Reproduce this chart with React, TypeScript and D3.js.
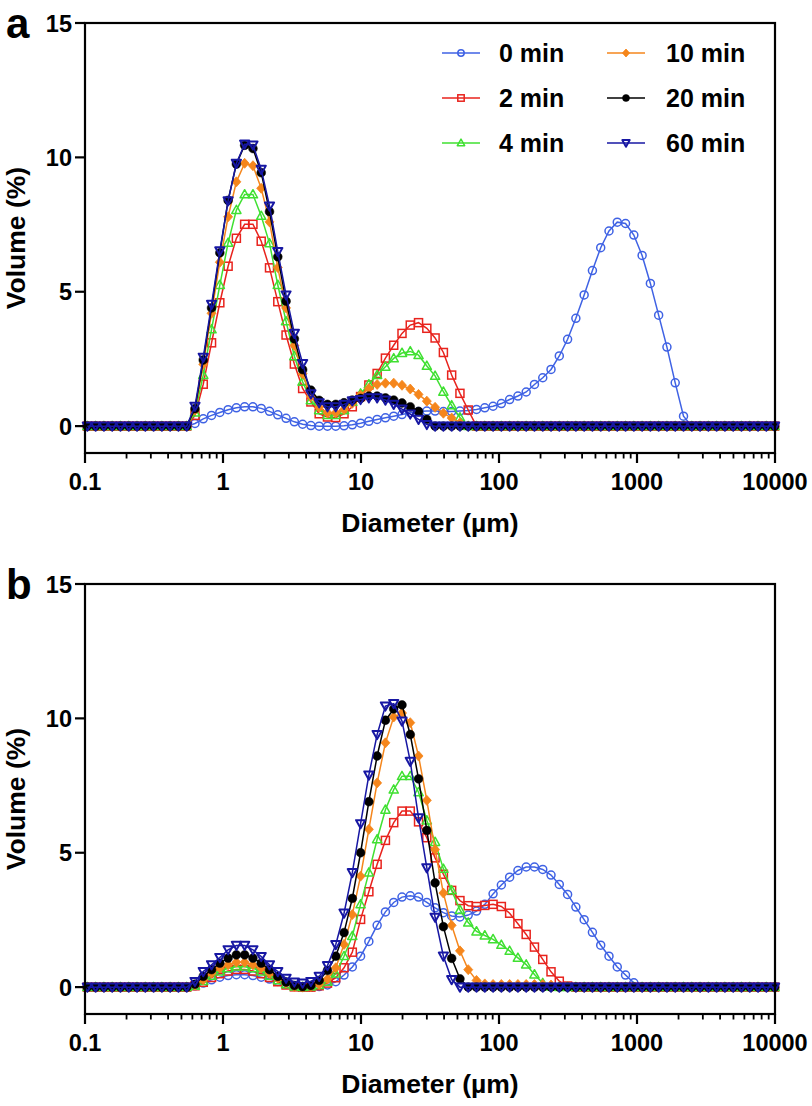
import React from "react";
import * as d3 from "d3";

// Particle diameter grid (µm)
const diameters = [
  0.104, 0.1194, 0.1371, 0.1574, 0.1807, 0.2075, 0.2382, 0.2735, 0.3141, 0.3606,
  0.414, 0.4753, 0.5458, 0.6266, 0.7194, 0.826, 0.9484, 1.089, 1.25, 1.435,
  1.648, 1.892, 2.173, 2.495, 2.864, 3.289, 3.776, 4.335, 4.977, 5.715,
  6.561, 7.534, 8.65, 9.931, 11.4, 13.09, 15.03, 17.26, 19.82, 22.75,
  26.12, 29.99, 34.43, 39.54, 45.39, 52.12, 59.84, 68.71, 78.89, 90.57,
  104, 119.4, 137.1, 157.4, 180.7, 207.5, 238.2, 273.5, 314.1, 360.6,
  414, 475.3, 545.8, 626.6, 719.4, 826, 948.4, 1089, 1250, 1435,
  1648, 1892, 2173, 2495, 2864, 3289, 3776, 4335, 4977, 5715,
  6561, 7534, 8650, 9931,
];

const seriesNames = ["0 min", "2 min", "4 min", "10 min", "20 min", "60 min"];

// ---- Panel a ----
const a_0min = [
  0, 0, 0, 0, 0, 0, 0, 0, 0, 0,
  0, 0, 0, 0.1, 0.27, 0.4, 0.51, 0.61, 0.68, 0.72,
  0.72, 0.66, 0.55, 0.42, 0.29, 0.16, 0.07, 0.02, 0, 0,
  0, 0.01, 0.05, 0.11, 0.18, 0.25, 0.31, 0.37, 0.43, 0.5,
  0.54, 0.56, 0.56, 0.54, 0.54, 0.56, 0.58, 0.62, 0.68, 0.74,
  0.84, 0.99, 1.12, 1.27, 1.55, 1.8, 2.11, 2.61, 3.23, 4.01,
  4.88, 5.79, 6.64, 7.26, 7.59, 7.54, 7.11, 6.35, 5.31, 4.13,
  2.94, 1.61, 0.37, 0, 0, 0, 0, 0, 0, 0,
  0, 0, 0, 0,
];
const a_2min = [
  0, 0, 0, 0, 0, 0, 0, 0, 0, 0,
  0, 0, 0, 0.4, 1.56, 3.1, 4.59, 5.95, 6.99, 7.51,
  7.51, 6.88, 5.89, 4.63, 3.39, 2.31, 1.4, 0.9, 0.46, 0.34,
  0.32, 0.46, 0.72, 1.1, 1.53, 1.96, 2.53, 3.01, 3.45, 3.76,
  3.85, 3.64, 3.28, 2.74, 1.9, 1.22, 0.6, 0, 0, 0,
  0, 0, 0, 0, 0, 0, 0, 0, 0, 0,
  0, 0, 0, 0, 0, 0, 0, 0, 0, 0,
  0, 0, 0, 0, 0, 0, 0, 0, 0, 0,
  0, 0, 0, 0,
];
const a_4min = [
  0, 0, 0, 0, 0, 0, 0, 0, 0, 0,
  0, 0, 0, 0.5, 1.9, 3.6, 5.25, 6.82, 8.04, 8.62,
  8.62, 7.82, 6.8, 5.25, 3.9, 2.6, 1.65, 0.96, 0.59, 0.41,
  0.41, 0.59, 0.9, 1.21, 1.55, 1.9, 2.21, 2.52, 2.72, 2.78,
  2.64, 2.24, 1.87, 1.28, 0.77, 0.32, 0, 0, 0, 0,
  0, 0, 0, 0, 0, 0, 0, 0, 0, 0,
  0, 0, 0, 0, 0, 0, 0, 0, 0, 0,
  0, 0, 0, 0, 0, 0, 0, 0, 0, 0,
  0, 0, 0, 0,
];
const a_10min = [
  0, 0, 0, 0, 0, 0, 0, 0, 0, 0,
  0, 0, 0, 0.6, 2.3, 4.2, 6.1, 7.79, 9.09, 9.78,
  9.69, 8.85, 7.6, 5.9, 4.4, 3.0, 1.95, 1.1, 0.7, 0.5,
  0.5, 0.62, 0.85, 1.15, 1.4, 1.55, 1.6, 1.6, 1.52, 1.38,
  1.18, 0.93, 0.7, 0.48, 0.3, 0.12, 0, 0, 0, 0,
  0, 0, 0, 0, 0, 0, 0, 0, 0, 0,
  0, 0, 0, 0, 0, 0, 0, 0, 0, 0,
  0, 0, 0, 0, 0, 0, 0, 0, 0, 0,
  0, 0, 0, 0,
];
const a_20min = [
  0, 0, 0, 0, 0, 0, 0, 0, 0, 0,
  0, 0, 0, 0.65, 2.46, 4.4, 6.45, 8.4, 9.75, 10.45,
  10.33, 9.43, 7.98, 6.3, 4.65, 3.25, 2.1, 1.34, 0.96, 0.81,
  0.81, 0.87, 0.97, 1.03, 1.12, 1.12, 1.05, 0.97, 0.86, 0.72,
  0.55, 0.25, 0, 0, 0, 0, 0, 0, 0, 0,
  0, 0, 0, 0, 0, 0, 0, 0, 0, 0,
  0, 0, 0, 0, 0, 0, 0, 0, 0, 0,
  0, 0, 0, 0, 0, 0, 0, 0, 0, 0,
  0, 0, 0, 0,
];
const a_60min = [
  0, 0, 0, 0, 0, 0, 0, 0, 0, 0,
  0, 0, 0, 0.74, 2.56, 4.53, 6.52, 8.38, 9.78, 10.49,
  10.46, 9.55, 8.19, 6.49, 4.88, 3.45, 2.33, 1.2, 0.87, 0.72,
  0.72, 0.81, 0.94, 0.99, 1.05, 1.05, 0.97, 0.81, 0.63, 0.45,
  0.25, 0.06, 0, 0, 0, 0, 0, 0, 0, 0,
  0, 0, 0, 0, 0, 0, 0, 0, 0, 0,
  0, 0, 0, 0, 0, 0, 0, 0, 0, 0,
  0, 0, 0, 0, 0, 0, 0, 0, 0, 0,
  0, 0, 0, 0,
];

// ---- Panel b ----
const b_0min = [
  0, 0, 0, 0, 0, 0, 0, 0, 0, 0,
  0, 0, 0, 0.05, 0.15, 0.27, 0.37, 0.43, 0.46, 0.46,
  0.43, 0.37, 0.3, 0.21, 0.11, 0.03, 0, 0, 0.02, 0.08,
  0.2, 0.45, 0.75, 1.15, 1.7, 2.3, 2.8, 3.15, 3.35, 3.4,
  3.35, 3.15, 2.95, 2.77, 2.65, 2.61, 2.68, 2.83, 3.08, 3.47,
  3.8, 4.09, 4.34, 4.47, 4.47, 4.38, 4.17, 3.82, 3.45, 2.98,
  2.51, 2.04, 1.56, 1.15, 0.75, 0.45, 0.16, 0, 0, 0,
  0, 0, 0, 0, 0, 0, 0, 0, 0, 0,
  0, 0, 0, 0,
];
const b_2min = [
  0, 0, 0, 0, 0, 0, 0, 0, 0, 0,
  0, 0, 0, 0.05, 0.18, 0.36, 0.5, 0.6, 0.66, 0.66,
  0.6, 0.5, 0.36, 0.2, 0.08, 0.01, 0, 0, 0.05, 0.15,
  0.35, 0.72, 1.3, 2.52, 3.55, 4.57, 5.46, 6.12, 6.55, 6.55,
  6.15, 5.56, 4.81, 4.2, 3.6, 3.22, 3.03, 3.0, 3.04, 3.08,
  3.0, 2.75, 2.36, 1.96, 1.49, 1.03, 0.57, 0.22, 0.04, 0,
  0, 0, 0, 0, 0, 0, 0, 0, 0, 0,
  0, 0, 0, 0, 0, 0, 0, 0, 0, 0,
  0, 0, 0, 0,
];
const b_4min = [
  0, 0, 0, 0, 0, 0, 0, 0, 0, 0,
  0, 0, 0, 0.05, 0.22, 0.42, 0.58, 0.7, 0.76, 0.76,
  0.7, 0.58, 0.42, 0.25, 0.1, 0.02, 0, 0.02, 0.08, 0.2,
  0.5, 1.15, 1.9, 3.08, 4.26, 5.5, 6.6, 7.35, 7.85, 7.85,
  7.25, 6.2, 5.4, 4.4, 3.6, 2.87, 2.4, 2.07, 1.92, 1.78,
  1.57, 1.35, 1.09, 0.84, 0.47, 0.15, 0.02, 0, 0, 0,
  0, 0, 0, 0, 0, 0, 0, 0, 0, 0,
  0, 0, 0, 0, 0, 0, 0, 0, 0, 0,
  0, 0, 0, 0,
];
const b_10min = [
  0, 0, 0, 0, 0, 0, 0, 0, 0, 0,
  0, 0, 0, 0.07, 0.27, 0.52, 0.71, 0.83, 0.93, 0.93,
  0.83, 0.71, 0.52, 0.33, 0.15, 0.02, 0, 0.02, 0.1, 0.3,
  0.72, 1.59, 2.7, 4.13, 5.87, 7.6, 9.09, 10.05, 10.2, 9.84,
  8.6, 6.95, 5.12, 3.5, 2.3, 1.35, 0.65, 0.25, 0.12, 0.1,
  0.1, 0.1, 0.1, 0.1, 0.1, 0.1, 0.08, 0, 0, 0,
  0, 0, 0, 0, 0, 0, 0, 0, 0, 0,
  0, 0, 0, 0, 0, 0, 0, 0, 0, 0,
  0, 0, 0, 0,
];
const b_20min = [
  0, 0, 0, 0, 0, 0, 0, 0, 0, 0,
  0, 0, 0, 0.11, 0.4, 0.65, 0.89, 1.08, 1.2, 1.2,
  1.08, 0.89, 0.65, 0.4, 0.19, 0.06, 0.02, 0.06, 0.25, 0.62,
  1.15, 2.03, 3.3, 5.0, 6.9, 8.6, 9.93, 10.35, 10.5, 9.4,
  7.75, 5.83, 3.88, 2.25, 1.07, 0.31, 0, 0, 0, 0,
  0, 0, 0, 0, 0, 0, 0, 0, 0, 0,
  0, 0, 0, 0, 0, 0, 0, 0, 0, 0,
  0, 0, 0, 0, 0, 0, 0, 0, 0, 0,
  0, 0, 0, 0,
];
const b_60min = [
  0, 0, 0, 0, 0, 0, 0, 0, 0, 0,
  0, 0, 0, 0.21, 0.58, 0.83, 1.1, 1.39, 1.55, 1.55,
  1.39, 1.14, 0.83, 0.58, 0.33, 0.19, 0.15, 0.21, 0.4, 0.8,
  1.58, 2.75, 4.26, 6.08, 7.89, 9.4, 10.46, 10.55, 9.9, 8.4,
  6.3, 4.44, 2.6, 1.15, 0.28, 0, 0, 0, 0, 0,
  0, 0, 0, 0, 0, 0, 0, 0, 0, 0,
  0, 0, 0, 0, 0, 0, 0, 0, 0, 0,
  0, 0, 0, 0, 0, 0, 0, 0, 0, 0,
  0, 0, 0, 0,
];

const panelASeries = [a_0min, a_2min, a_4min, a_10min, a_20min, a_60min];
const panelBSeries = [b_0min, b_2min, b_4min, b_10min, b_20min, b_60min];

const xTicks = [0.1, 1, 10, 100, 1000, 10000];
const xTickLabels = ["0.1", "1", "10", "100", "1000", "10000"];
const yTicks = [0, 5, 10, 15];

// styles
const seriesColors = ["#3f62e4", "#e8231d", "#3fe031", "#f5861c", "#000000", "#1717a3"];
const seriesShapes = ["circle", "square", "triUp", "diamond", "dot", "triDown"];

const FONT = "'Liberation Sans', Arial, Helvetica, sans-serif";

const X0 = 85, X1 = 775;
const PT = 23, PB = 453;

const xScale = d3.scaleLog().domain([0.1, 10000]).range([X0, X1]);

function Marker({ shape, color, x, y, s = 1 }: { shape: string; color: string; x: number; y: number; s?: number }) {
  const sw = 1.5;
  switch (shape) {
    case "circle":
      return <circle cx={x} cy={y} r={4 * s} fill="none" stroke={color} strokeWidth={sw} />;
    case "square":
      return <rect x={x - 4 * s} y={y - 4 * s} width={8 * s} height={8 * s} fill="none" stroke={color} strokeWidth={sw} />;
    case "triUp":
      return (
        <path
          d={`M${x},${y - 4.8 * s} L${x + 4.6 * s},${y + 3.4 * s} L${x - 4.6 * s},${y + 3.4 * s} Z`}
          fill="none" stroke={color} strokeWidth={sw} strokeLinejoin="round"
        />
      );
    case "diamond":
      return <path d={`M${x},${y - 5 * s} L${x + 4.5 * s},${y} L${x},${y + 5 * s} L${x - 4.5 * s},${y} Z`} fill={color} stroke={color} strokeWidth={0.8} />;
    case "dot":
      return <circle cx={x} cy={y} r={4.4 * s} fill={color} stroke={color} strokeWidth={0.5} />;
    case "triDown":
      return (
        <path
          d={`M${x - 4.6 * s},${y - 3.6 * s} L${x + 4.6 * s},${y - 3.6 * s} L${x},${y + 4.6 * s} Z`}
          fill="white" fillOpacity={0} stroke={color} strokeWidth={2} strokeLinejoin="round"
        />
      );
    default:
      return null;
  }
}

function Panel({ dy, label, series, legend }: { dy: number; label: string; series: number[][]; legend: boolean }) {
  const yScale = d3.scaleLinear().domain([-1, 15]).range([PB + dy, PT + dy]);
  const line = d3
    .line<number>()
    .x((_, i) => xScale(diameters[i]))
    .y((v) => yScale(v));
  const minor: number[] = [];
  [0.1, 1, 10, 100, 1000].forEach((d) => {
    for (let m = 2; m <= 9; m++) minor.push(d * m);
  });
  const yb = PB + dy;
  return (
    <g>
      {/* panel label */}
      <text x={6} y={38 + dy} fontFamily={FONT} fontWeight="bold" fontSize={42}>{label}</text>
      {/* series */}
      {series.map((vals, si) => (
        <g key={si}>
          <path d={line(vals) || ""} fill="none" stroke={seriesColors[si]} strokeWidth={1.5} />
          {vals.map((v, i) => (
            <Marker key={i} shape={seriesShapes[si]} color={seriesColors[si]} x={xScale(diameters[i])} y={yScale(v)} />
          ))}
        </g>
      ))}
      {/* frame */}
      <rect x={X0} y={PT + dy} width={X1 - X0} height={PB - PT} fill="none" stroke="#000" strokeWidth={2.2} />
      {/* y ticks */}
      {yTicks.map((t) => (
        <g key={t}>
          <line x1={X0 - 10} x2={X0} y1={yScale(t)} y2={yScale(t)} stroke="#000" strokeWidth={2.2} />
          <text x={72} y={yScale(t) + 8.5} textAnchor="end" fontFamily={FONT} fontWeight="bold" fontSize={23.5}>{t}</text>
        </g>
      ))}
      {/* x ticks */}
      {xTicks.map((t, i) => (
        <g key={t}>
          <line x1={xScale(t)} x2={xScale(t)} y1={yb} y2={yb + 10} stroke="#000" strokeWidth={2.2} />
          <text x={xScale(t)} y={490 + dy} textAnchor="middle" fontFamily={FONT} fontWeight="bold" fontSize={23.5}>{xTickLabels[i]}</text>
        </g>
      ))}
      {minor.map((t) => (
        <line key={t} x1={xScale(t)} x2={xScale(t)} y1={yb} y2={yb + 5.5} stroke="#000" strokeWidth={1.8} />
      ))}
      {/* axis titles */}
      <text x={430} y={532 + dy} textAnchor="middle" fontFamily={FONT} fontWeight="bold" fontSize={26.5}>Diameter (µm)</text>
      <text transform={`translate(25,${238 + dy}) rotate(-90)`} textAnchor="middle" fontFamily={FONT} fontWeight="bold" fontSize={26.5}>Volume (%)</text>
      {/* legend */}
      {legend &&
        seriesNames.map((name, i) => {
          const col = Math.floor(i / 3);
          const row = i % 3;
          const lx0 = col === 0 ? 442 : 607;
          const ly = 53 + row * 45 + dy;
          const tx = col === 0 ? 499 : 666;
          return (
            <g key={name}>
              <line x1={lx0} x2={lx0 + 38} y1={ly} y2={ly} stroke={seriesColors[i]} strokeWidth={1.5} />
              <Marker shape={seriesShapes[i]} color={seriesColors[i]} x={lx0 + 19} y={ly} s={0.8} />
              <text x={tx} y={ly + 9} fontFamily={FONT} fontWeight="bold" fontSize={25}>{name}</text>
            </g>
          );
        })}
    </g>
  );
}

export default function App() {
  return (
    <svg width={812} height={1106} style={{ position: "absolute", left: 0, top: 0, background: "#fff" }}>
      <rect x={0} y={0} width={812} height={1106} fill="#fff" />
      <Panel dy={0} label="a" series={panelASeries} legend={true} />
      <Panel dy={561} label="b" series={panelBSeries} legend={false} />
    </svg>
  );
}
